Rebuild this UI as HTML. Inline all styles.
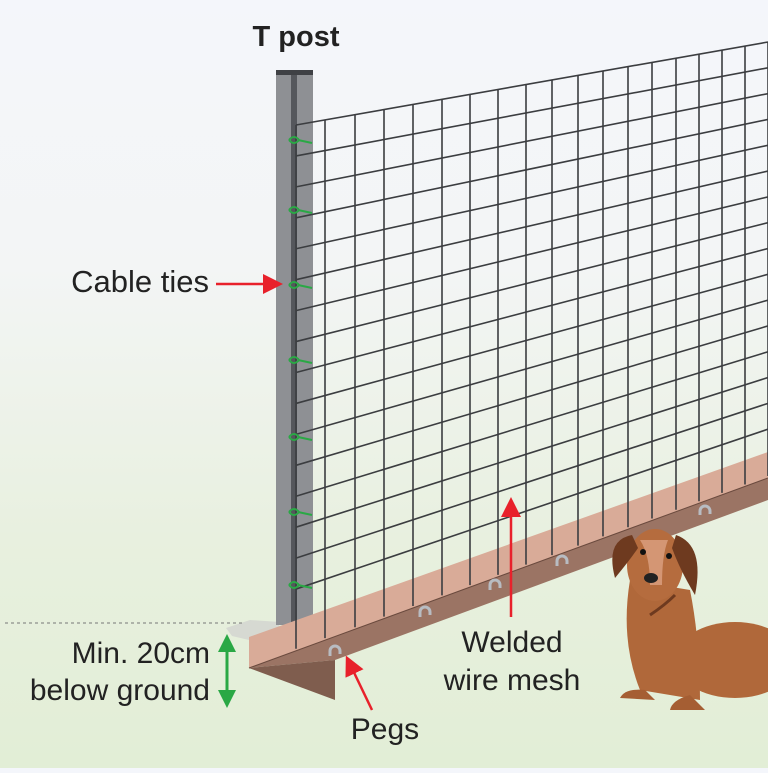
<!DOCTYPE html>
<html><head><meta charset="utf-8"><style>
html,body{margin:0;padding:0}
body{width:768px;height:768px;overflow:hidden;background:linear-gradient(#f4f6fb 0%,#f3f5f5 35%,#e8f0df 70%,#e2eed6 100%)}
text{font-family:"Liberation Sans",sans-serif;fill:#222}
</style></head><body>
<svg width="768" height="768" viewBox="0 0 768 768" xmlns="http://www.w3.org/2000/svg">
<defs>
<marker id="ar" markerWidth="8" markerHeight="8" refX="6" refY="4" orient="auto" markerUnits="strokeWidth"><path d="M0,0 L8,4 L0,8 Z" fill="#e8212b"/></marker>
<marker id="ag" markerWidth="6" markerHeight="6" refX="4" refY="3" orient="auto" markerUnits="strokeWidth"><path d="M0,0 L6,3 L0,6 Z" fill="#2aa845"/></marker>
</defs>
<polygon points="226,628 250,620 280,622 276,640 249,640 232,636" fill="#d6d9d2"/>
<line x1="5" y1="623" x2="245" y2="623" stroke="#777" stroke-width="1" stroke-dasharray="3,3"/>
<rect x="276" y="70" width="37" height="555" fill="#8e9094"/>
<rect x="291" y="74" width="6" height="551" fill="#55575c"/>
<rect x="276" y="70" width="37" height="5" fill="#3f4145"/>
<polygon points="249,637 768,452 768,478 249,668" fill="#d9ab98"/>
<polygon points="249,668 768,478 768,500 335,660" fill="#9b7464"/>
<polygon points="249,668 335,660 335,700" fill="#7f5d4e"/>
<line x1="249" y1="668" x2="768" y2="478" stroke="#6a4a3e" stroke-width="1"/>
<g id="mesh" stroke="#3b3d40" stroke-width="1.6" fill="none"></g>
<g stroke="#2aa845" stroke-width="2" fill="none">
<path d="M289,140 q5,-6 10,0 q-5,6 -10,0 M298,140 l14,3"/>
<path d="M289,210 q5,-6 10,0 q-5,6 -10,0 M298,210 l14,3"/>
<path d="M289,285 q5,-6 10,0 q-5,6 -10,0 M298,285 l14,3"/>
<path d="M289,360 q5,-6 10,0 q-5,6 -10,0 M298,360 l14,3"/>
<path d="M289,437 q5,-6 10,0 q-5,6 -10,0 M298,437 l14,3"/>
<path d="M289,512 q5,-6 10,0 q-5,6 -10,0 M298,512 l14,3"/>
<path d="M289,585 q5,-6 10,0 q-5,6 -10,0 M298,585 l14,3"/>
</g>
<g stroke="#b8bcc2" stroke-width="3" fill="none">
<path d="M330,656 v-5 a5,5 0 0 1 10,0 v3"/>
<path d="M420,617 v-5 a5,5 0 0 1 10,0 v3"/>
<path d="M490,590 v-5 a5,5 0 0 1 10,0 v3"/>
<path d="M557,566 v-5 a5,5 0 0 1 10,0 v3"/>
<path d="M700,515 v-4 a5,5 0 0 1 10,0 v3"/>
</g>
<g>
<ellipse cx="735" cy="660" rx="60" ry="38" fill="#b0683a"/>
<path d="M630,580 Q620,640 640,690 L700,700 Q700,640 690,590 Z" fill="#b0683a"/>
<path d="M645,690 Q625,688 620,698 L655,700 Z" fill="#a55e33"/>
<path d="M690,695 Q672,700 670,710 L705,710 Z" fill="#a55e33"/>
<ellipse cx="655" cy="565" rx="28" ry="36" fill="#b56c3e"/>
<path d="M640,540 Q650,555 650,585 L662,585 Q662,555 668,540 Z" fill="#d49674"/>
<path d="M632,535 Q605,540 615,578 Q630,560 638,548 Z" fill="#6e3a1f"/>
<path d="M676,535 Q705,545 695,595 Q680,570 672,548 Z" fill="#6e3a1f"/>
<circle cx="643" cy="552" r="3" fill="#111"/><circle cx="669" cy="556" r="3" fill="#111"/>
<ellipse cx="651" cy="578" rx="7" ry="5" fill="#222"/>
<path d="M650,615 Q665,605 675,595" stroke="#6e3a1f" stroke-width="3" fill="none"/>
</g>
<text x="296" y="46" font-size="29" font-weight="bold" text-anchor="middle">T post</text>
<text x="209" y="292" font-size="31" text-anchor="end">Cable ties</text>
<line x1="216" y1="284" x2="278" y2="284" stroke="#e8212b" stroke-width="2.5" marker-end="url(#ar)"/>
<text x="210" y="663" font-size="30" text-anchor="end">Min. 20cm</text>
<text x="210" y="700" font-size="30" text-anchor="end">below ground</text>
<line x1="227" y1="660" x2="227" y2="640" stroke="#2aa845" stroke-width="3" marker-end="url(#ag)"/>
<line x1="227" y1="680" x2="227" y2="702" stroke="#2aa845" stroke-width="3" marker-end="url(#ag)"/>
<line x1="227" y1="645" x2="227" y2="698" stroke="#2aa845" stroke-width="3"/>
<text x="385" y="739" font-size="30" text-anchor="middle">Pegs</text>
<line x1="372" y1="710" x2="348" y2="660" stroke="#e8212b" stroke-width="2.5" marker-end="url(#ar)"/>
<text x="512" y="652" font-size="30" text-anchor="middle">Welded</text>
<text x="512" y="690" font-size="30" text-anchor="middle">wire mesh</text>
<line x1="511" y1="617" x2="511" y2="502" stroke="#e8212b" stroke-width="2.5" marker-end="url(#ar)"/>
</svg>
<script>
(function(){
var g=document.getElementById('mesh'),s='';
var xs=[296,325,355,384,413,442,470,498,526,552,578,603,628,652,676,699,722,745,768];
function top(x){return 125+(x-296)*(42-125)/472;}
function bot(x){return 668-0.366*(x-249)-2;}
for(var i=0;i<xs.length;i++){s+='<line x1="'+xs[i]+'" y1="'+top(xs[i])+'" x2="'+xs[i]+'" y2="'+bot(xs[i])+'"/>';}
var N=16;
for(var j=0;j<N;j++){var t=j/N;var y1=125+t*(620-125),y2=42+t*(455-42);s+='<line x1="296" y1="'+y1+'" x2="768" y2="'+y2+'"/>';}
g.innerHTML=s;
})();
</script>
</body></html>
